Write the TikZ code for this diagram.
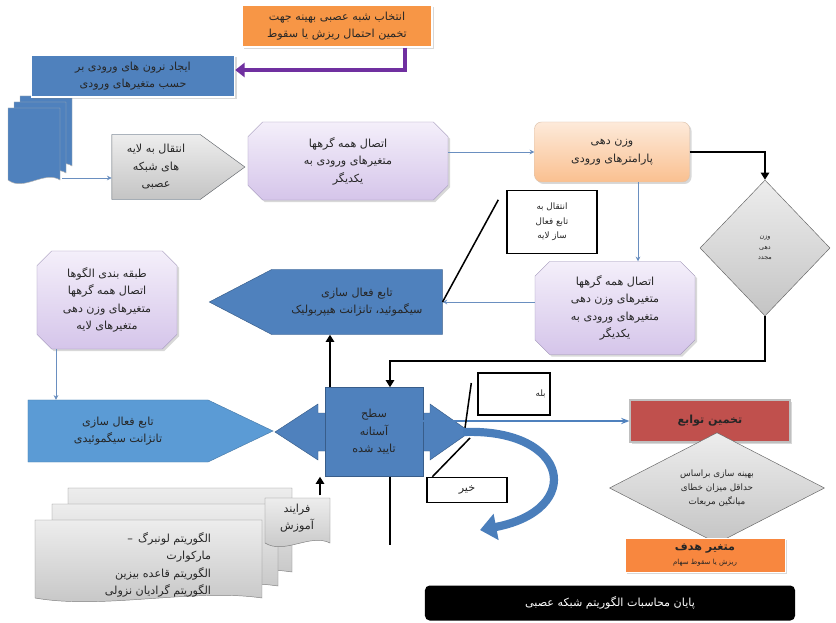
\documentclass[tikz,border=0pt]{standalone}
\usepackage{fontspec}
\newfontfamily\arabicfont[Script=Arabic]{DejaVu Sans}
\TeXXeTstate=1
\usetikzlibrary{shapes.misc, shapes.symbols, shapes.geometric, arrows.meta, shadows}

\definecolor{plaquetop}{HTML}{F4EFFA}
\definecolor{plaquebot}{HTML}{D5C5EA}
\definecolor{plaqueline}{HTML}{9F94B8}
\definecolor{officeblue}{HTML}{4F81BD}
\definecolor{blueline}{HTML}{385D8A}
\definecolor{lightblue}{HTML}{5B9BD5}
\definecolor{flowblue}{HTML}{6A8FC0}
\definecolor{curveblue}{HTML}{4A7EBB}
\definecolor{officeorange}{HTML}{F79646}
\definecolor{peachtop}{HTML}{FDEADA}
\definecolor{peachbot}{HTML}{FAC090}
\definecolor{officered}{HTML}{C0504D}
\definecolor{arrowpurple}{HTML}{7030A0}
\definecolor{graytop}{HTML}{EDEDED}
\definecolor{graybot}{HTML}{C4C4C4}

% one line of right-to-left text
\newcommand{\rl}[1]{\beginR #1\endR}
% a page with a wavy lower edge: style, x1, y1, x2, y2
\newcommand{\docpage}[5]{%
  \draw[#1] (#2,#3) -- (#4,#3) -- (#4,#5)
    .. controls ({#4-(#4-#2)*0.3},{#5-10}) and ({#2+(#4-#2)*0.3},{#5+12}) .. (#2,#5) -- cycle;}

\begin{document}
\begin{tikzpicture}[x=0.03cm, y=-0.03cm,
    fa/.style={font=\arabicfont\fontsize{9.5}{15}\selectfont, align=center, text=black!85, inner sep=1pt},
    softshadow/.style={drop shadow={opacity=0.3, shadow xshift=0.06cm, shadow yshift=-0.06cm}},
    plaque/.style={fa, chamfered rectangle, chamfered rectangle xsep=0.22cm, chamfered rectangle ysep=0.22cm,
      draw=plaqueline, top color=plaquetop, bottom color=plaquebot, softshadow},
    orangebox/.style={fa, rectangle, fill=officeorange, draw=white, line width=1.2pt, softshadow},
    bluebox/.style={fa, rectangle, fill=officeblue, draw=white, line width=1.2pt, softshadow},
    tagbox/.style={fa, signal, signal pointer angle=#1, draw=blueline, fill=officeblue},
    decision/.style={fa, diamond, inner sep=0pt, draw=black!60, top color=graytop, bottom color=graybot},
    plainbox/.style={fa, rectangle, draw=black, line width=1.2pt, fill=white},
    thinflow/.style={draw=flowblue, line width=0.6pt, -{Stealth[length=4pt,width=4pt]}},
    boldflow/.style={draw=black, line width=1.8pt, -{Triangle[length=6pt,width=7pt]}},
    callout/.style={draw=black, line width=1.3pt}
  ]
  \useasboundingbox (0,0) rectangle (836,623);
  \fill[white] (0,0) rectangle (836,623);

  % stacked pages, upper left
  \docpage{fill=officeblue, draw=black!30}{20}{96}{72}{166}
  \docpage{fill=officeblue, draw=black!30}{14}{102}{66}{173}
  \docpage{fill=officeblue, draw=black!30}{8}{108}{60}{180}
  \coordinate (docs) at (62,178);

  % stacked pages, lower left
  \docpage{top color=graytop, bottom color=graybot, draw=black!50}{68}{488}{292}{572}
  \docpage{top color=graytop, bottom color=graybot, draw=black!50}{52}{504}{278}{586}
  \docpage{top color=graytop, bottom color=graybot, draw=black!50}{35}{520}{262}{598}
  \node[fa, align=right] (algs) at (158,565)
    {\rl{الگوریتم لونبرگ \,–}\\\rl{مارکوارت}\\\rl{الگوریتم قاعده بیزین}\\\rl{الگوریتم گرادیان نزولی}};
  \docpage{top color=graytop, bottom color=graybot, draw=black!50}{265}{498}{330}{543}
  \node[fa, minimum width=1.95cm, minimum height=1.35cm] (train) at (297,518) {\rl{فرایند}\\\rl{آموزش}};

  % upper row
  \node[orangebox, minimum width=5.7cm, minimum height=1.26cm] (top) at (337,26)
    {\rl{انتخاب شبه عصبی بهینه جهت}\\\rl{تخمین احتمال ریزش یا سقوط}};
  \node[bluebox, minimum width=6.09cm, minimum height=1.26cm] (inp) at (133,76)
    {\rl{ایجاد نرون های ورودی بر}\\\rl{حسب متغیرهای ورودی}};
  \node[tagbox=72, signal to=east, draw=black!55, top color=graytop, bottom color=graybot,
    minimum width=3.99cm, minimum height=1.95cm] (tl) at (156,167)
    {\rl{انتقال به لایه}\\\rl{های شبکه}\\\rl{عصبی}};
  \node[plaque, minimum width=6cm, minimum height=2.34cm] (p1) at (348,161)
    {\rl{اتصال همه گرهها}\\\rl{متغیرهای ورودی به}\\\rl{یکدیگر}};
  \node[fa, rectangle, rounded corners=6pt, draw=peachbot!80!black!60, top color=peachtop, bottom color=peachbot,
    softshadow, minimum width=4.65cm, minimum height=1.8cm] (wt) at (612,152)
    {\rl{وزن دهی}\\\rl{پارامترهای ورودی}};
  \node[decision, font=\arabicfont\fontsize{5.5}{9}\selectfont, minimum width=3.9cm, minimum height=4.08cm] (d1) at (765,248)
    {\rl{وزن}\\\rl{دهی}\\\rl{مجدد}};
  \node[plainbox, font=\arabicfont\fontsize{7.5}{12.5}\selectfont, minimum width=2.7cm, minimum height=1.89cm] (fbox) at (552,222)
    {\rl{انتقال به}\\\rl{تابع فعال}\\\rl{ساز لایه}};

  % middle row
  \node[plaque, minimum width=4.8cm, minimum height=2.79cm] (p2) at (615,308)
    {\rl{اتصال همه گرهها}\\\rl{متغیرهای وزن دهی}\\\rl{متغیرهای ورودی به}\\\rl{یکدیگر}};
  \node[tagbox=55, signal to=west, minimum width=6.99cm, minimum height=1.95cm] (act) at (357,302)
    {\rl{تابع فعال سازی}\\\rl{سیگموئید، تانژانت هیپربولیک}};
  \node[plaque, minimum width=4.2cm, minimum height=2.94cm] (p3) at (107,300)
    {\rl{طبقه بندی الگوها}\\\rl{اتصال همه گرهها}\\\rl{متغیرهای وزن دهی}\\\rl{متغیرهای لایه}};

  % lower row
  \node[tagbox=51, signal to=east, fill=lightblue, draw=lightblue!80!black,
    minimum width=7.35cm, minimum height=1.86cm] (s2) at (118,431)
    {\rl{تابع فعال سازی}\\\rl{تانژانت سیگموئیدی}};
  \filldraw[fill=officeblue, draw=blueline] (318,404) -- (275,432) -- (318,460) -- (318,451)
    -- (326,451) -- (326,413) -- (318,413) -- cycle;
  \filldraw[fill=officeblue, draw=blueline] (422,413) -- (430,413) -- (430,404) -- (470,432)
    -- (430,460) -- (430,451) -- (422,451) -- cycle;
  \node[fa, rectangle, fill=officeblue, draw=blueline, minimum width=2.94cm, minimum height=2.67cm] (thr) at (374,432)
    {\rl{سطح}\\\rl{آستانه}\\\rl{تایید شده}};
  \node[plainbox, font=\arabicfont\fontsize{7.5}{12}\selectfont, align=right, text width=1.9cm,
    minimum width=2.16cm, minimum height=1.26cm] (yes) at (514,394) {\rl{بله}};
  \node[plainbox, minimum width=2.4cm, minimum height=0.75cm] (no) at (467,490) {\rl{خیر}};
  \node[fa, rectangle, fill=officered, draw=black!25, line width=1pt, softshadow,
    minimum width=4.8cm, minimum height=1.26cm] (est) at (710,421) {\bfseries\rl{تخمین توابع}};
  \node[decision, font=\arabicfont\fontsize{7.5}{12}\selectfont, minimum width=6.45cm, minimum height=2.85cm] (d2) at (717,488)
    {\rl{بهینه سازی براساس}\\\rl{حداقل میزان خطای}\\\rl{میانگین مربعات}};
  \node[orangebox, fill=officeorange!90!red, line width=0.8pt, minimum width=4.8cm, minimum height=1.02cm] (tgt) at (705,555)
    {\bfseries\rl{متغیر هدف}\\[-3pt]{\fontsize{6}{7}\selectfont\rl{ریزش یا سقوط سهام}}};
  \node[fa, rectangle, rounded corners=4pt, fill=black, text=white, minimum width=11.1cm, minimum height=1.05cm] (fin) at (610,603)
    {\rl{پایان محاسبات الگوریتم شبکه عصبی}};

  % connectors
  \draw[line width=4pt, draw=arrowpurple, -{Triangle[length=8pt,width=12pt]}]
    ([xshift=2.04cm]top.south) |- ([yshift=0.18cm]inp.east);
  \draw[thinflow] (docs) -- (docs -| tl.west);
  \draw[thinflow] (p1.east |- wt.west) -- (wt.west);
  \draw[boldflow] (wt.east) -| (d1.north);
  \draw[thinflow] ([xshift=0.78cm]wt.south) -- ([xshift=0.78cm]wt.south |- p2.north);
  \draw[thinflow] (p2.west |- act.east) -- (act.east);
  \draw[boldflow] (d1.south) -- ++(0,45) -| ([xshift=0.48cm]thr.north);
  \draw[boldflow] ([xshift=-1.32cm]thr.north) -- ([xshift=-1.32cm]thr.north |- act.south);
  \draw[callout] (act.east) -- ([shift={(-0.24cm,-0.3cm)}]fbox.north west);
  \draw[thinflow] ([xshift=-1.53cm]p3.south) -- ([xshift=-1.53cm]p3.south |- s2.north);
  \draw[line width=1.5pt, draw=officeblue, -{Stealth[length=7pt]}] (thr.east |- est.west) -- (est.west);
  \coordinate (ytip) at (465,428);
  \coordinate (ntip) at (470,438);
  \coordinate (cend) at (480,530);
  \draw[callout] ([shift={(-0.18cm,0.33cm)}]yes.west) -- (ytip);
  \draw[callout] (ntip) -- ([xshift=0.18cm]no.north west);
  \draw[boldflow] ([xshift=0.69cm]train.north) -- ([xshift=0.69cm]train.north |- thr.south);
  \draw[line width=1.8pt] ([xshift=0.48cm]thr.south) -- ++(0,68);
  \draw[line width=7pt, draw=curveblue, -{Triangle[length=14pt,width=22pt]}]
    ([xshift=1.2cm]thr.east) .. controls (570,428) and (585,510) .. (cend);
\end{tikzpicture}
\end{document}
